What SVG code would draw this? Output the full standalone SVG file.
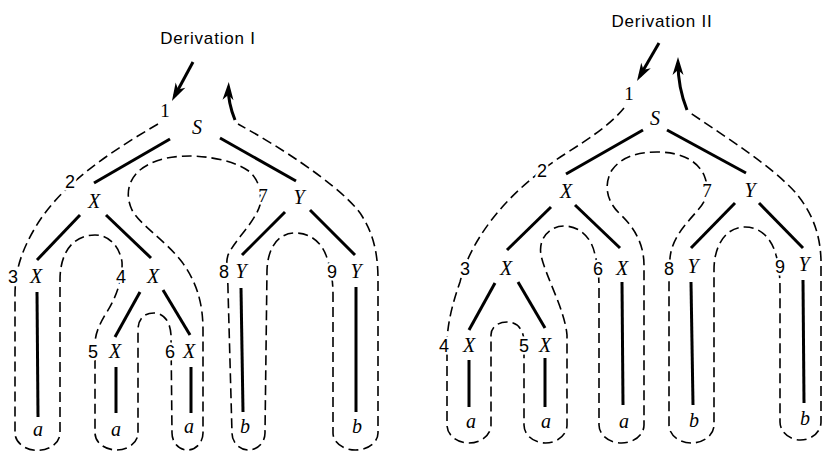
<svg xmlns="http://www.w3.org/2000/svg" width="824" height="452" viewBox="0 0 824 452">
<style>
.edge{stroke:#000;stroke-width:3;fill:none;stroke-linecap:butt}
.contour{stroke:#000;stroke-width:1.6;fill:none;stroke-dasharray:10 5}
.arrow{stroke:#000;stroke-width:3;fill:none}
.lab{font-family:"Liberation Serif","Times New Roman",serif;font-style:italic;font-size:20px;text-anchor:middle;fill:#000}
.num{font-family:"Liberation Sans",Arial,sans-serif;font-size:18px;text-anchor:middle;fill:#000;stroke:#fff;stroke-width:5;paint-order:stroke}
.nums{font-family:"Liberation Serif","Times New Roman",serif;font-size:19px;text-anchor:middle;fill:#000;stroke:#fff;stroke-width:5;paint-order:stroke}
.title{font-family:"Liberation Sans",Arial,sans-serif;font-size:17px;letter-spacing:0.8px;text-anchor:middle;fill:#000}
</style>
<defs>
<marker id="ah" viewBox="-13 -6 20 12" refX="0" refY="0" markerWidth="20" markerHeight="12" markerUnits="userSpaceOnUse" orient="auto">
<path d="M6,0 L-12,-5.5 L-7,0 L-12,5.5 Z" fill="#000"/>
</marker>
</defs>
<rect width="824" height="452" fill="#fff"/>

<g id="titles">
<text class="title" x="208" y="44">Derivation I</text>
<text class="title" x="662" y="27">Derivation II</text>
</g>

<g id="connectors">
<line class="edge" x1="170" y1="139" x2="94" y2="183"/>
<line class="edge" x1="220" y1="138" x2="296" y2="181"/>
<line class="edge" x1="80" y1="215" x2="37" y2="260"/>
<line class="edge" x1="106" y1="215" x2="151" y2="258"/>
<line class="edge" x1="140" y1="292" x2="115" y2="337"/>
<line class="edge" x1="163" y1="290" x2="190" y2="335"/>
<line class="edge" x1="285" y1="212" x2="242" y2="255"/>
<line class="edge" x1="310" y1="210" x2="355" y2="255"/>
<line class="edge" x1="37" y1="292" x2="38" y2="417"/>
<line class="edge" x1="116" y1="367" x2="116" y2="413"/>
<line class="edge" x1="191" y1="367" x2="191" y2="413"/>
<line class="edge" x1="241" y1="288" x2="243" y2="412"/>
<line class="edge" x1="356" y1="287" x2="356" y2="412"/>
<line class="edge" x1="643" y1="130" x2="566" y2="174"/>
<line class="edge" x1="667" y1="130" x2="746" y2="173"/>
<line class="edge" x1="551" y1="207" x2="507" y2="250"/>
<line class="edge" x1="575" y1="205" x2="620" y2="248"/>
<line class="edge" x1="735" y1="203" x2="691" y2="248"/>
<line class="edge" x1="759" y1="203" x2="803" y2="248"/>
<line class="edge" x1="495" y1="283" x2="469" y2="330"/>
<line class="edge" x1="518" y1="282" x2="545" y2="328"/>
<line class="edge" x1="469" y1="360" x2="469" y2="407"/>
<line class="edge" x1="545" y1="358" x2="545" y2="407"/>
<line class="edge" x1="622" y1="282" x2="623" y2="405"/>
<line class="edge" x1="691" y1="282" x2="693" y2="405"/>
<line class="edge" x1="803" y1="280" x2="804" y2="403"/>
</g>

<g id="traversal-left">
<path class="contour" d="M158,124 C110,152 60,185 35,228 C22,250 15,270 15,295 L15,433 A22 17 0 0 0 60,433 L60,280 C60,250 75,235 95,235 C110,235 120,248 122,262 C123,280 115,300 105,315 C98,327 95,335 95,345 L95,433 A21.5 17 0 0 0 138,433 L138,330 C138,318 145,313 154,313 C163,313 170,320 171,335 L172,433 A15.5 17 0 0 0 203,433 L203,330 C203,300 195,280 182,262 C165,240 140,225 132,210 C125,195 128,180 140,170 C155,158 175,156 190,156 C205,156 235,160 250,172 C258,180 262,190 260,205 C255,222 235,240 228,255 C225,265 228,275 228,290 L232,433 A16.5 17 0 0 0 265,433 L267,270 C268,245 280,233 295,233 C310,233 322,242 327,258 C331,270 333,280 333,295 L333,433 A22.5 17 0 0 0 378,433 L378,280 C378,250 372,232 362,216 C350,196 300,158 238,124"/>
<path class="arrow" d="M193,62 L174.8,95.7" marker-end="url(#ah)"/>
<path class="arrow" d="M235,120 C231,110 228,100 228.5,88" marker-end="url(#ah)"/>
<text class="nums" x="165" y="117">1</text>
<text class="num" x="70" y="188">2</text>
<text class="num" x="13" y="283">3</text>
<text class="num" x="121" y="283">4</text>
<text class="num" x="93" y="358">5</text>
<text class="num" x="170" y="358">6</text>
<text class="nums" x="263" y="202">7</text>
<text class="num" x="224" y="278">8</text>
<text class="num" x="332" y="278">9</text>
</g>

<g id="traversal-right">
<path class="contour" d="M624,108 C610,125 590,138 565,154 C540,170 510,195 490,222 C475,242 465,262 460,282 C452,305 447,325 447,345 L447,425 A22 18 0 0 0 491,425 L491,335 C491,327 498,322 507,322 C516,322 523,328 524,340 L524,425 A21.5 18 0 0 0 567,425 L567,335 C565,310 545,275 541,255 C538,238 550,226 564,226 C580,226 592,238 595,255 C598,265 599,275 599,290 L599,425 A22.5 18 0 0 0 644,425 L644,265 C644,245 635,228 620,214 C607,202 603,185 612,170 C622,156 640,152 657,152 C680,152 697,160 704,175 C710,190 707,200 698,210 C685,225 672,238 670,258 C669,270 669,280 669,290 L669,425 A22.5 18 0 0 0 714,425 L714,270 C714,245 726,227 745,227 C762,227 772,240 776,255 C779,265 780,275 780,290 L780,422 A20.5 18 0 0 0 821,422 L821,260 C820,230 810,210 795,192 C770,165 730,140 689,112"/>
<path class="arrow" d="M659,43 L640,75.8" marker-end="url(#ah)"/>
<path class="arrow" d="M687,110 C681,95 678,80 678,63" marker-end="url(#ah)"/>
<text class="nums" x="629" y="100">1</text>
<text class="num" x="542" y="177">2</text>
<text class="num" x="465" y="275">3</text>
<text class="num" x="444" y="352">4</text>
<text class="num" x="524" y="352">5</text>
<text class="num" x="598" y="275">6</text>
<text class="nums" x="707" y="197">7</text>
<text class="num" x="669" y="275">8</text>
<text class="num" x="780" y="273">9</text>
</g>

<g id="L-S"><text class="lab" x="197" y="134">S</text></g>
<g id="L-X"><text class="lab" x="94" y="208">X</text></g>
<g id="L-Y"><text class="lab" x="299" y="204">Y</text></g>
<g id="L-X3"><text class="lab" x="36" y="283">X</text></g>
<g id="L-X4"><text class="lab" x="153" y="283">X</text></g>
<g id="L-X5"><text class="lab" x="115" y="358">X</text></g>
<g id="L-X6"><text class="lab" x="189" y="358">X</text></g>
<g id="L-Y8"><text class="lab" x="241" y="278">Y</text></g>
<g id="L-Y9"><text class="lab" x="356" y="278">Y</text></g>
<g id="L-a3"><text class="lab" x="38" y="436">a</text></g>
<g id="L-a5"><text class="lab" x="116" y="436">a</text></g>
<g id="L-a6"><text class="lab" x="189" y="433">a</text></g>
<g id="L-b8"><text class="lab" x="245" y="433">b</text></g>
<g id="L-b9"><text class="lab" x="357" y="433">b</text></g>

<g id="R-S"><text class="lab" x="655" y="125">S</text></g>
<g id="R-X"><text class="lab" x="566" y="198">X</text></g>
<g id="R-Y"><text class="lab" x="750" y="197">Y</text></g>
<g id="R-X3"><text class="lab" x="506" y="275">X</text></g>
<g id="R-X6"><text class="lab" x="622" y="275">X</text></g>
<g id="R-Y8"><text class="lab" x="693" y="273">Y</text></g>
<g id="R-Y9"><text class="lab" x="804" y="271">Y</text></g>
<g id="R-X4"><text class="lab" x="469" y="352">X</text></g>
<g id="R-X5"><text class="lab" x="545" y="352">X</text></g>
<g id="R-a4"><text class="lab" x="471" y="428">a</text></g>
<g id="R-a5"><text class="lab" x="546" y="428">a</text></g>
<g id="R-a6"><text class="lab" x="624" y="428">a</text></g>
<g id="R-b8"><text class="lab" x="694" y="427">b</text></g>
<g id="R-b9"><text class="lab" x="805" y="425">b</text></g>
</svg>
